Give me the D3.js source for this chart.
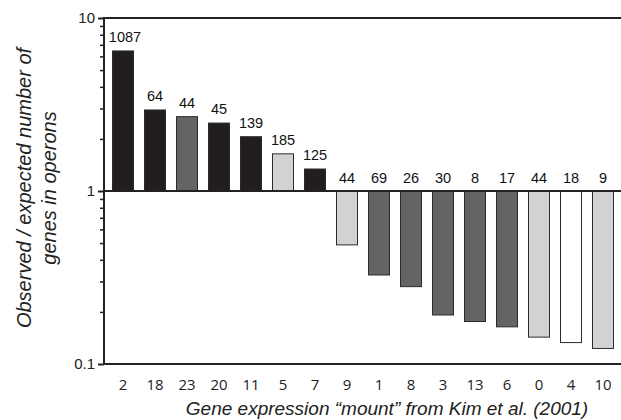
<!DOCTYPE html>
<html>
<head>
<meta charset="utf-8">
<script src="https://cdn.jsdelivr.net/npm/d3@7"></script>
<style>
  body { margin: 0; background: #fff; }
  svg { display: block; }
</style>
</head>
<body>
<div id="chart"></div>
<script>
var width = 621;
var height = 420;

// expression "mount" categories, left to right
var categories = ["2", "18", "23", "20", "11", "5", "7", "9", "1", "8", "3", "13", "6", "0", "4", "10"];
// observed / expected ratio (log axis)
var ratios = [6.45, 2.94, 2.69, 2.47, 2.06, 1.64, 1.34, 0.488, 0.327, 0.28, 0.192, 0.176, 0.164, 0.143, 0.133, 0.123];
// number of genes shown over each bar
var counts = [1087, 64, 44, 45, 139, 185, 125, 44, 69, 26, 30, 8, 17, 44, 18, 9];
// shading group of each bar
var shades = ["black", "black", "dark", "black", "black", "light", "black", "light", "dark", "dark", "dark", "dark", "dark", "light", "white", "light"];
var yMajor = [0.1, 1, 10];

var fills = {black: "#221e1f", dark: "#636466", light: "#d1d2d4", white: "#ffffff"};

var x = d3.scaleBand()
    .domain(categories)
    .range([107, 619])
    .paddingInner(0.3125)
    .paddingOuter(0.15625);

var y = d3.scaleLog()
    .domain([0.1, 10])
    .range([364, 18]);

var svg = d3.select("#chart")
    .append("svg")
    .attr("width", width)
    .attr("height", height)
    .style("font-family", "'Liberation Sans', Arial, sans-serif");

// bars hang from the ratio = 1 line
svg.append("g")
    .selectAll("rect")
    .data(ratios)
    .join("rect")
      .attr("x", (d, i) => x(categories[i]) + 0.5)
      .attr("y", d => Math.min(y(d), y(1)))
      .attr("width", x.bandwidth() - 1)
      .attr("height", d => Math.abs(y(d) - y(1)))
      .attr("fill", (d, i) => fills[shades[i]])
      .attr("stroke", "#2b2b2b")
      .attr("stroke-width", 1);

// counts over the bars
svg.append("g")
    .selectAll("text")
    .data(counts)
    .join("text")
      .attr("x", (d, i) => x(categories[i]) + x.bandwidth() / 2 + (i == 0 ? 2 : 0))
      .attr("y", (d, i) => ratios[i] >= 1 ? y(ratios[i]) - 9 : y(1) - 8)
      .attr("text-anchor", "middle")
      .attr("font-size", "14.5px")
      .attr("fill", "#111")
      .text(d => d);

// y axis: major and minor ticks
var minor = [];
[0.1, 1].forEach(b => { for (var k = 2; k <= 9; k++) minor.push(b * k); });

svg.append("g")
    .attr("transform", "translate(104,0)")
    .call(d3.axisLeft(y).tickValues(minor).tickSize(4).tickFormat(""))
    .call(g => g.select(".domain").remove())
    .call(g => g.selectAll("line").attr("stroke", "#222").attr("stroke-width", 1.5));

svg.append("g")
    .attr("transform", "translate(104,0)")
    .call(d3.axisLeft(y).tickValues(yMajor).tickSize(6).tickPadding(3).tickFormat(d => d))
    .call(g => g.select(".domain").remove())
    .call(g => g.selectAll("line").attr("stroke", "#222").attr("stroke-width", 2))
    .call(g => g.selectAll("text").attr("font-size", "15px").attr("fill", "#222")
        .attr("font-family", "'Liberation Sans', Arial, sans-serif"));

// frame lines
var lines = svg.append("g").attr("stroke", "#222").attr("stroke-width", 2);
lines.append("line").attr("x1", 104).attr("x2", 104).attr("y1", y(10)).attr("y2", y(0.1) + 1);
lines.append("line").attr("x1", 103).attr("x2", width).attr("y1", y(10)).attr("y2", y(10));
lines.append("line").attr("x1", 103).attr("x2", width).attr("y1", y(1)).attr("y2", y(1));
lines.append("line").attr("x1", 103).attr("x2", width).attr("y1", y(0.1)).attr("y2", y(0.1));

// category labels
svg.append("g")
    .attr("transform", `translate(0,${y(0.1)})`)
    .call(d3.axisBottom(x).tickSize(0).tickPadding(15))
    .call(g => g.select(".domain").remove())
    .call(g => g.selectAll("text").attr("font-size", "15px").attr("fill", "#222")
        .attr("font-family", "'Open Sans', 'Liberation Sans', sans-serif"));

// axis titles
svg.append("text")
    .attr("x", 387)
    .attr("y", 415)
    .attr("text-anchor", "middle")
    .attr("font-size", "19px")
    .attr("font-style", "italic")
    .attr("fill", "#222")
    .text("Gene expression \u201cmount\u201d from Kim et al. (2001)");

var ytitle = svg.append("g")
    .attr("transform", "translate(0,188) rotate(-90)")
    .attr("text-anchor", "middle")
    .attr("font-size", "20px")
    .attr("font-style", "italic")
    .attr("fill", "#222");
ytitle.append("text").attr("x", 0).attr("y", 31).text("Observed / expected number of");
ytitle.append("text").attr("x", 0).attr("y", 56).text("genes in operons");
</script>
</body>
</html>
